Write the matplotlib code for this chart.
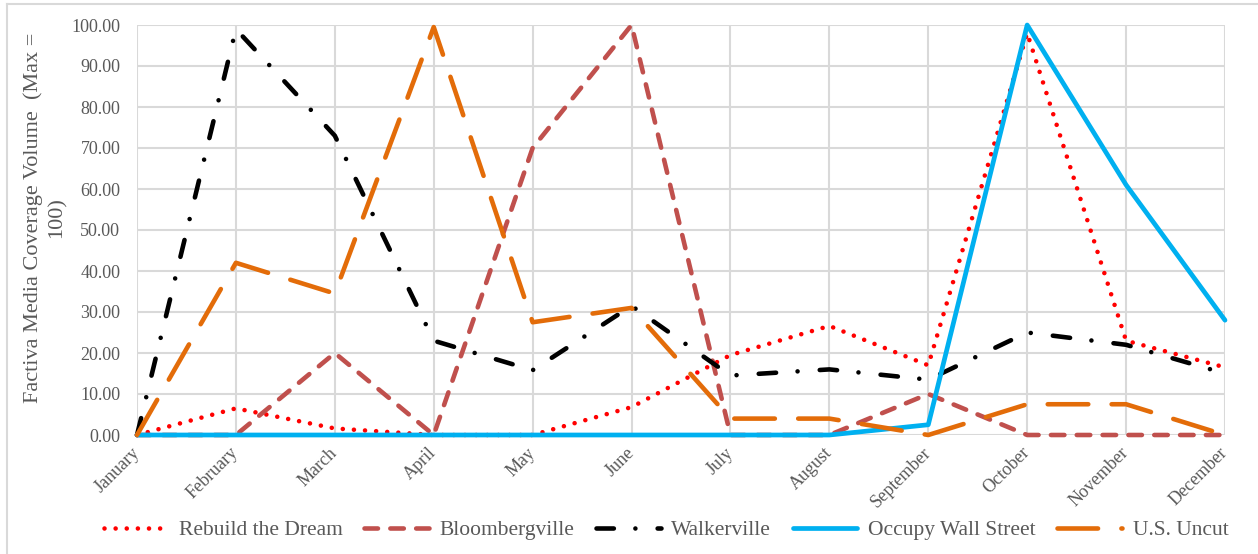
import matplotlib
matplotlib.use("Agg")
import matplotlib.pyplot as plt
from matplotlib.lines import Line2D

months = ["January", "February", "March", "April", "May", "June", "July",
          "August", "September", "October", "November", "December"]

rebuild = [0, 6.5, 1.6, 0, 0, 6.8, 19.5, 26.6, 17, 98, 23, 16.5]
bloomberg = [0, 0, 20, 0, 70, 100, 0, 0, 10, 0, 0, 0]
walker = [0, 99, 73, 23, 15.8, 31.5, 14.5, 16, 13.5, 25, 22, 15]
occupy = [0, 0, 0, 0, 0, 0, 0, 0, 2.5, 100, 61, 28]
uncut = [0, 42, 34.5, 99.5, 27.5, 31, 4, 4, 0, 7.5, 7.5, 0]

plt.rcParams['font.family'] = ['Liberation Serif', 'DejaVu Serif']
plt.rcParams['lines.scale_dashes'] = False

grey = '#595959'
fig = plt.figure(figsize=(12.58, 5.54), dpi=100)
ax = fig.add_axes([137 / 1258, 1 - 435 / 554, (1225 - 137) / 1258, (435 - 25) / 554])

x = list(range(len(months)))
lw = 3.3
l1, = ax.plot(x, rebuild, color='#FF0000', lw=lw, dashes=(0.01, 8.0),
              dash_capstyle='round', clip_on=False, label='Rebuild the Dream')
l2, = ax.plot(x, bloomberg, color='#C0504D', lw=lw, dashes=(9.7, 8.9),
              dash_capstyle='round', clip_on=False, label='Bloombergville')
l3, = ax.plot(x, walker, color='#000000', lw=lw, dashes=(12.5, 15.5, 0.01, 16.0),
              dash_capstyle='round', clip_on=False, label='Walkerville')
l4, = ax.plot(x, occupy, color='#00B0F0', lw=3.4, solid_capstyle='round',
              clip_on=False, label='Occupy Wall Street')
l5, = ax.plot(x, uncut, color='#E36C09', lw=lw, dashes=(29.2, 16.8),
              dash_capstyle='round', clip_on=False, label='U.S. Uncut')

ax.set_xlim(0, 11)
ax.set_ylim(0, 100)
ax.set_xticks(x)
ax.set_xticklabels(months, rotation=45, ha='right', va='center',
                   rotation_mode='anchor')
ax.set_yticks(range(0, 101, 10))
ax.set_yticklabels(["%.2f" % v for v in range(0, 101, 10)])
ax.tick_params(axis='both', length=0, labelsize=13, labelcolor=grey)
ax.tick_params(axis='y', pad=12)
ax.tick_params(axis='x', pad=11)
for s in ax.spines.values():
    s.set_visible(False)
ax.grid(True, color='#D9D9D9', lw=1.5)
ax.set_axisbelow(True)

fig.text(45 / 1258, 1 - 218 / 554, "Factiva Media Coverage Volume  (Max =\n100)",
         rotation=90, ha='center', va='center', multialignment='center',
         fontsize=16, color=grey, linespacing=1.3)

leg = fig.legend(handles=[l1, l2, l3, l4, l5], loc='center',
                 bbox_to_anchor=(666 / 1258, 1 - 530 / 554), ncol=5,
                 frameon=False, fontsize=15.5, handlelength=3.0,
                 handletextpad=0.5, columnspacing=1.0)
for t in leg.get_texts():
    t.set_color(grey)

# chart area border (cut at the image edge)
fig.add_artist(Line2D([7 / 1258, 1], [1 - 4 / 554, 1 - 4 / 554],
                      transform=fig.transFigure, color='#D9D9D9', lw=1.5))
fig.add_artist(Line2D([7 / 1258, 7 / 1258], [0, 1 - 4 / 554],
                      transform=fig.transFigure, color='#D9D9D9', lw=1.5))

fig.savefig("out.png", dpi=100)
